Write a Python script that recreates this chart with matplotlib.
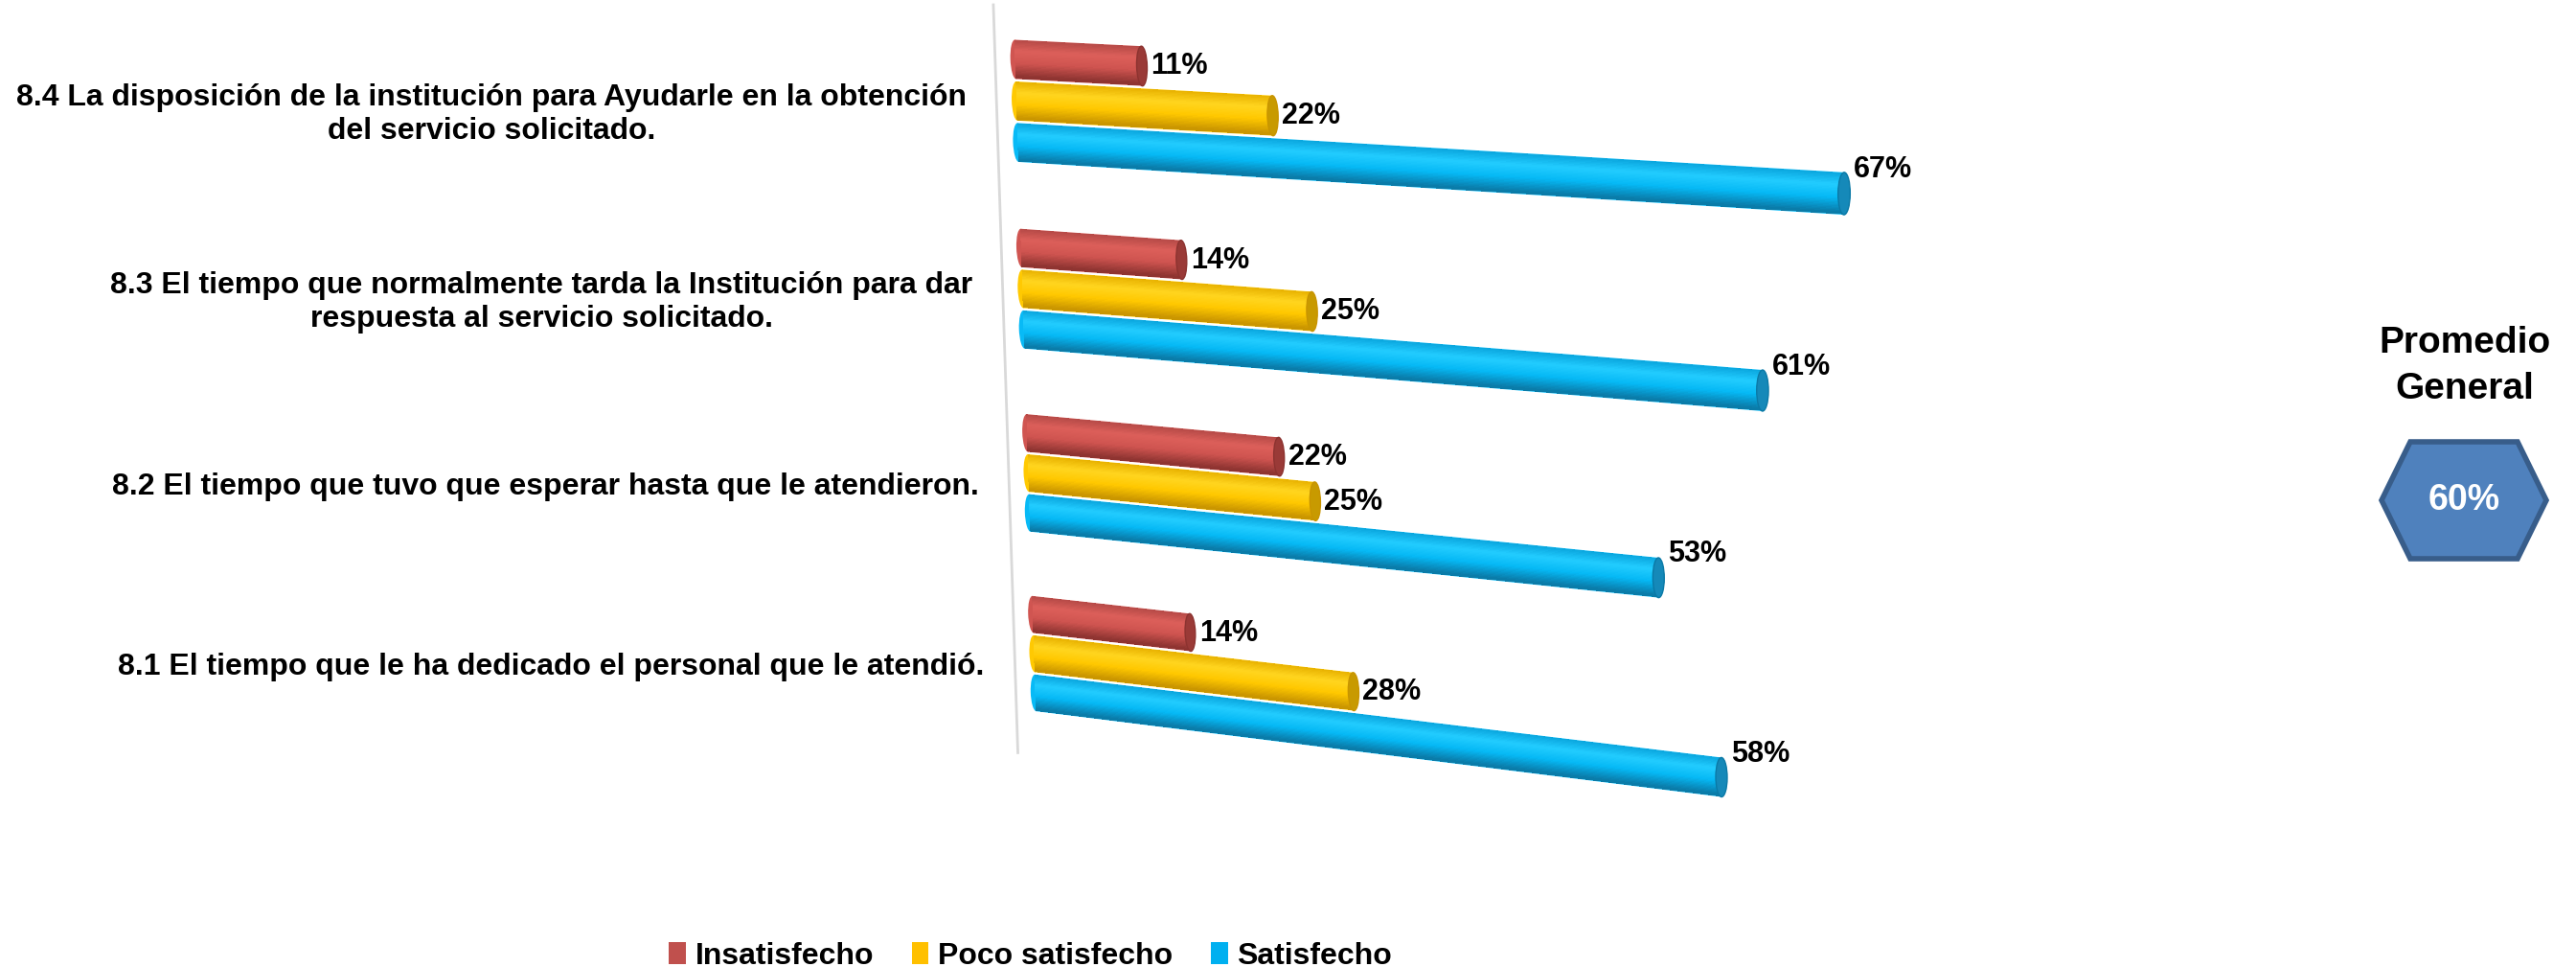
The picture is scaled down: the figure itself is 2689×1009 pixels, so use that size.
import numpy as np
import matplotlib
matplotlib.use("Agg")
import matplotlib.pyplot as plt
import matplotlib.transforms as mtransforms
from matplotlib.patches import Ellipse, Polygon, Patch
from matplotlib.colors import LinearSegmentedColormap

plt.rcParams['font.family'] = ['Liberation Sans', 'DejaVu Sans']

# preguntas de arriba hacia abajo
preguntas = [
    "8.4 La disposición de la institución para Ayudarle en la obtención\ndel servicio solicitado.",
    "8.3 El tiempo que normalmente tarda la Institución para dar\nrespuesta al servicio solicitado.",
    "8.2 El tiempo que tuvo que esperar hasta que le atendieron.",
    "8.1 El tiempo que le ha dedicado el personal que le atendió.",
]
series = ["Insatisfecho", "Poco satisfecho", "Satisfecho"]
insatisfecho = [11, 14, 22, 14]
poco_satisfecho = [22, 25, 25, 28]
satisfecho = [67, 61, 53, 58]
promedio_general = 60

colores = ["#c0504d", "#ffc000", "#00b0f0"]
valores = [insatisfecho, poco_satisfecho, satisfecho]

# sombreado del cilindro: borde superior, brillo, cuerpo, borde inferior
sombras = [
    ["#b64a47", "#dc5f5a", "#cf5450", "#8c3330"],
    ["#e8b200", "#ffd51f", "#ffc800", "#c89400"],
    ["#0aa6de", "#22ccff", "#06b9f5", "#0a79a6"],
]
tapas = ["#9a3a37", "#c89a00", "#1589b9"]

W, H = 2689, 1009
fig = plt.figure(figsize=(W / 100, H / 100), dpi=100)
ax = fig.add_axes([0, 0, 1, 1])
ax.set_xlim(0, W)
ax.set_ylim(H, 0)
ax.axis("off")
ax.set_autoscale_on(False)

paso = 0.219   # separacion entre barras de un grupo
alto = 0.206   # grosor del cilindro


def homografia(src, dst):
    A = []
    for (x, y), (u, v) in zip(src, dst):
        A.append([x, y, 1, 0, 0, 0, -u * x, -u * y, -u])
        A.append([0, 0, 0, x, y, 1, -v * x, -v * y, -v])
    _, _, vt = np.linalg.svd(np.array(A, dtype=float))
    return vt[-1].reshape(3, 3) / vt[-1][-1]


class Perspectiva(mtransforms.Transform):
    input_dims = output_dims = 2

    def __init__(self, M):
        super().__init__()
        self.M = M

    def transform_non_affine(self, values):
        v = np.asarray(values, dtype=float).reshape(-1, 2)
        p = np.column_stack([v, np.ones(len(v))]) @ self.M.T
        return p[:, :2] / p[:, 2:]

    def inverted(self):
        return Perspectiva(np.linalg.inv(self.M))


# vista en perspectiva: (porcentaje, posicion de categoria) -> pixeles
M = homografia(
    [(0, -paso), (0, 3 + paso), (67, paso), (58, 3 + paso)],
    [(1060, 62), (1081, 723), (1925, 202), (1797, 811)],
)
persp = Perspectiva(M)
tr = persp + ax.transData

pos = np.arange(len(preguntas))

n_franjas = 30
# se dibuja de atras (Satisfecho) hacia adelante (Insatisfecho)
for s in [2, 1, 0]:
    cmap = LinearSegmentedColormap.from_list(
        series[s], list(zip([0, 0.3, 0.62, 1], sombras[s])))
    vals = np.array(valores[s], dtype=float)
    yc = pos + (s - 1) * paso
    z = 10 - s * 3
    for y0 in yc:
        ax.add_patch(Ellipse((0, y0), 0.9, alto, transform=tr,
                             facecolor=cmap(0.6), edgecolor="none", zorder=z))
    ax.barh(yc, vals, height=alto, left=0, color=cmap(0.6), linewidth=0,
            transform=tr, zorder=z + 0.2)
    for j in range(n_franjas):
        t = (j + 0.5) / n_franjas
        ax.barh(yc - alto / 2 + (0.03 + 0.94 * t) * alto, vals,
                height=alto * 0.94 / n_franjas * 1.6, left=0,
                color=cmap(t), linewidth=0, antialiased=False,
                transform=tr, zorder=z + 0.5)
    for v, y0 in zip(vals, yc):
        ax.add_patch(Ellipse((v, y0), 0.9, alto, transform=tr,
                             facecolor=tapas[s], edgecolor=sombras[s][3],
                             linewidth=1, zorder=z + 1))
        px, py = persp.transform((v + 0.45, y0))
        dy = -25 if s == 2 else 0
        ax.text(px + 4, py + dy, f"{v:.0f}%", fontsize=22, fontweight="bold",
                ha="left", va="center", zorder=20)

# eje de categorias
ax.plot([-1.8, -1.8], [-0.5, 3.57], transform=tr, color="#d9d9d9", lw=2, zorder=1)

for k, texto in enumerate(preguntas):
    px, py = persp.transform((0, k))
    ax.text(px - 52, py + 14, texto, fontsize=23, fontweight="bold",
            ha="right", va="center", multialignment="center", linespacing=1.2)

# promedio general
ax.text(2573, 382, "Promedio\nGeneral", fontsize=28, fontweight="bold",
        ha="center", va="center", linespacing=1.4)
cx, cy, hw, hh, tw = 2572, 522, 86, 61, 56
hexagono = Polygon([(cx - tw, cy - hh), (cx + tw, cy - hh), (cx + hw, cy),
                    (cx + tw, cy + hh), (cx - tw, cy + hh), (cx - hw, cy)],
                   closed=True, facecolor="#4f81bd", edgecolor="#385d8a", linewidth=4)
ax.add_patch(hexagono)
ax.text(cx, cy, f"{promedio_general}%", fontsize=27, fontweight="bold",
        color="white", ha="center", va="center")

handles = [Patch(facecolor=c, edgecolor="none") for c in colores]
fig.legend(handles, series, loc="lower center", bbox_to_anchor=(0.40, -0.032), ncol=3,
           frameon=False, handlelength=0.55, handleheight=0.75,
           handletextpad=0.3, columnspacing=1.25,
           prop={"weight": "bold", "size": 23})

fig.savefig("out.png", dpi=100)
